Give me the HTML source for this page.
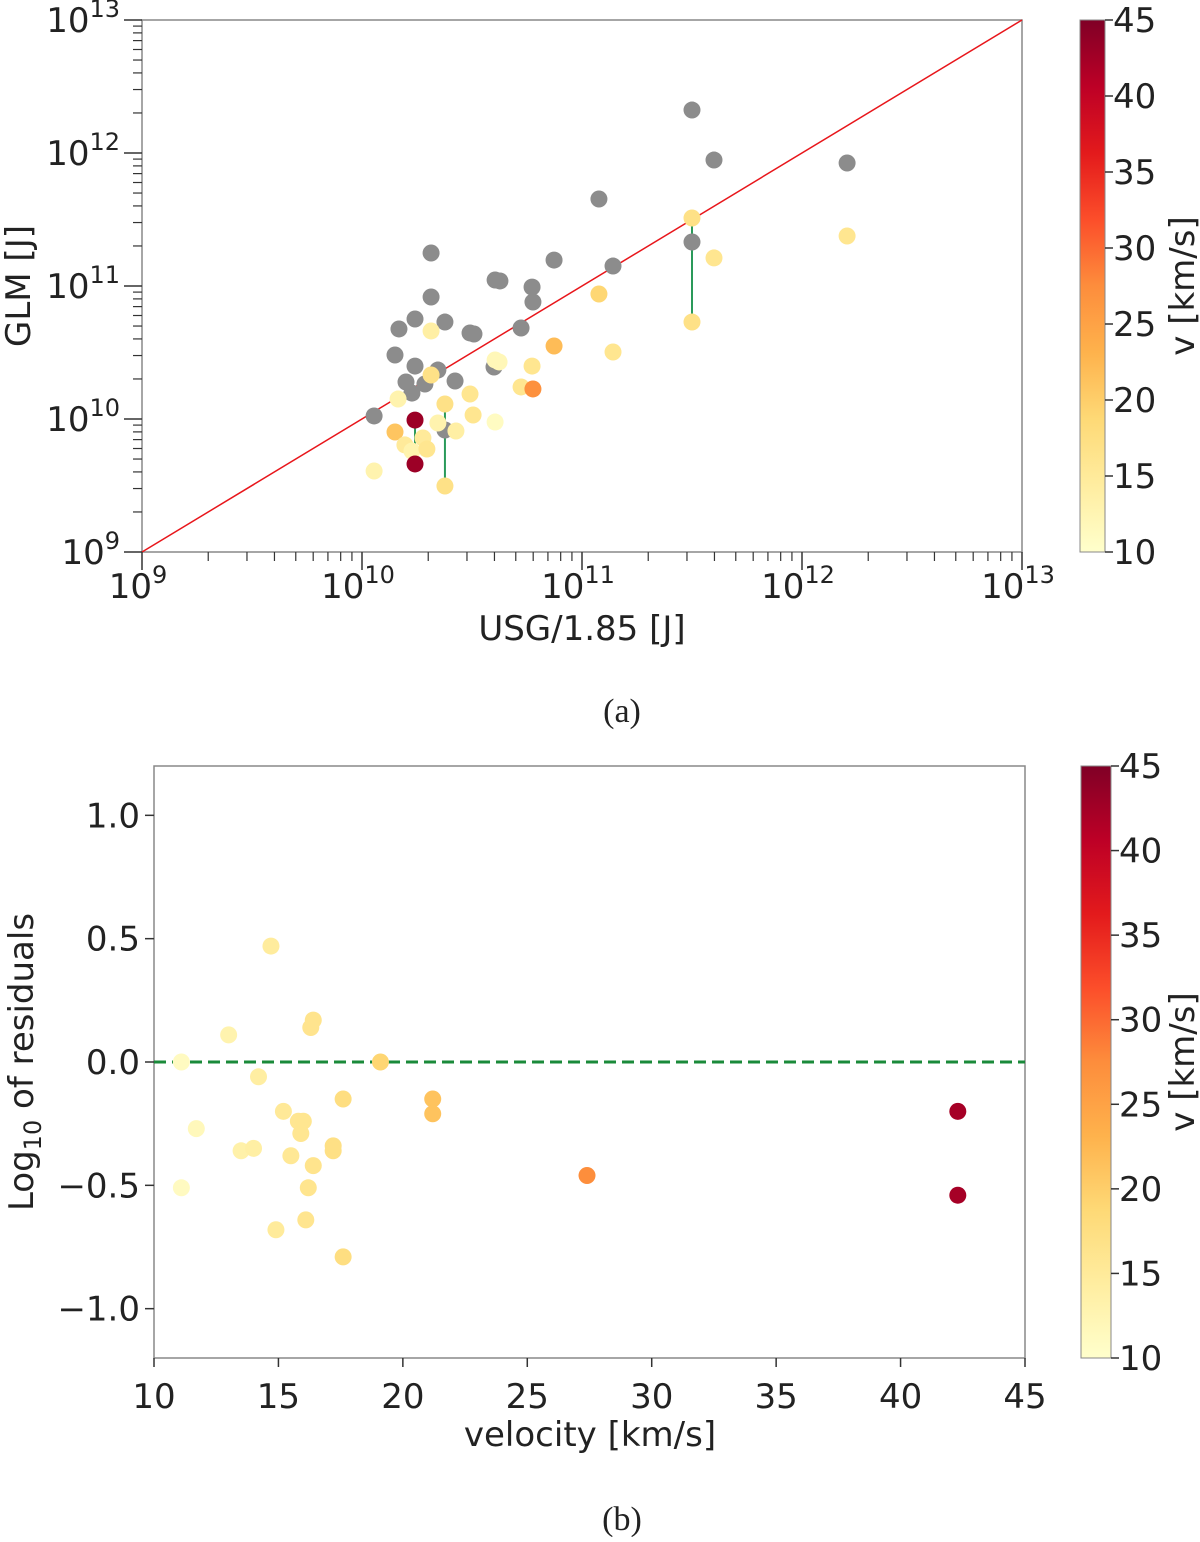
<!DOCTYPE html>
<html><head><meta charset="utf-8"><style>
body{margin:0;background:#fff;width:1200px;height:1537px;overflow:hidden}
svg text{font-family:"DejaVu Sans","Liberation Sans",sans-serif;fill:#222}
</style></head><body>
<svg id="s" width="1200" height="1537">
<defs>
<linearGradient id="cm" x1="0" y1="1" x2="0" y2="0">
<stop offset="0" stop-color="#ffffcc"/><stop offset="0.125" stop-color="#ffeda0"/><stop offset="0.25" stop-color="#fed976"/><stop offset="0.375" stop-color="#feb24c"/><stop offset="0.5" stop-color="#fd8d3c"/><stop offset="0.625" stop-color="#fc4e2a"/><stop offset="0.75" stop-color="#e31a1c"/><stop offset="0.875" stop-color="#bd0026"/><stop offset="1" stop-color="#800026"/>
</linearGradient></defs>
<g id="ga"></g>
<g id="gb"></g>
<text x="622" y="722" font-size="34" text-anchor="middle" style="font-family:'Liberation Serif',serif">(a)</text>
<text x="622" y="1530" font-size="34" text-anchor="middle" style="font-family:'Liberation Serif',serif">(b)</text>
</svg>
<script>
// Panel (a) data: log10 energies
const greyX=[10.314,10.873,10.605,10.627,10.773,10.777,10.314,10.241,10.168,10.377,10.491,10.509,10.723,10.150,10.241,10.345,10.600,10.200,10.227,10.286,10.423,10.055,10.377,11.500,11.600,12.205,11.077,11.141,11.500];
const greyY=[11.248,11.195,11.045,11.038,10.992,10.880,10.917,10.752,10.677,10.729,10.647,10.639,10.684,10.481,10.398,10.368,10.391,10.278,10.195,10.263,10.286,10.023,9.917,12.323,11.947,11.925,11.654,11.150,11.331];
const colX=[10.314,10.873,10.605,10.623,10.773,10.723,10.777,10.314,10.164,10.491,10.377,10.505,10.605,10.241,10.150,10.345,10.427,10.277,10.195,10.227,10.295,10.241,10.055,10.377,11.500,11.500,11.600,12.205,11.077,11.141];
const colY=[10.662,10.549,10.444,10.429,10.398,10.241,10.226,10.331,10.150,10.188,10.113,10.030,9.977,9.992,9.902,9.970,9.910,9.857,9.805,9.759,9.774,9.662,9.609,9.496,11.511,10.729,11.211,11.376,10.940,10.504];
const colV=[14,22,12,12,16,16,27,17,13,16,17,16,11,43,21,13,14,15,15,13,16,43,13,17,17,17,16,16,19,16];
const pairX=[10.241,10.377,11.500];const pairY1=[9.992,10.113,11.511];const pairY2=[9.662,9.496,10.729];
// Panel (b) data
const bV=[11.1,11.1,11.7,13.0,13.5,14.0,14.2,14.7,14.9,15.2,15.5,15.8,15.9,16.0,16.2,16.4,16.1,16.3,16.4,17.2,17.2,17.6,17.6,19.1,21.2,21.2,27.4,42.3,42.3];
const bR=[0.0,-0.51,-0.27,0.11,-0.36,-0.35,-0.06,0.47,-0.68,-0.20,-0.38,-0.24,-0.29,-0.24,-0.51,0.17,-0.64,0.14,-0.42,-0.34,-0.36,-0.15,-0.79,0.0,-0.15,-0.21,-0.46,-0.20,-0.54];
const cbTicks=[10,15,20,25,30,35,40,45];

const NS='http://www.w3.org/2000/svg';
function mk(p,t,a,txt){const e=document.createElementNS(NS,t);for(const k in a)e.setAttribute(k,a[k]);if(txt!==undefined)e.textContent=txt;p.appendChild(e);return e;}
const stops=['#ffffcc','#ffeda0','#fed976','#feb24c','#fd8d3c','#fc4e2a','#e31a1c','#bd0026','#800026'];
function hx(c){return [1,3,5].map(i=>parseInt(c.substr(i,2),16));}
function cmap(v){let t=Math.max(0,Math.min(1,(v-10)/35))*8;let i=Math.min(7,Math.floor(t));let f=t-i;const a=hx(stops[i]),b=hx(stops[i+1]);return 'rgb('+a.map((x,k)=>Math.round(x+(b[k]-x)*f)).join(',')+')';}

// ---- Panel a
const ga=document.getElementById('ga');
const L=142,R=1022,T=20,B=552;
const xa=l=>L+(l-9)/4*(R-L), ya=l=>B-(l-9)/4*(B-T);
mk(ga,'rect',{x:L,y:T,width:R-L,height:B-T,fill:'none',stroke:'#888','stroke-width':1.5});
let ln=mk(ga,'line',{x1:xa(9),y1:ya(9),x2:xa(13),y2:ya(13),stroke:'#e8161b','stroke-width':1.5});

for(let d=9;d<=13;d++){
  mk(ga,'line',{x1:xa(d),y1:B,x2:xa(d),y2:B+18,stroke:'#333','stroke-width':1.5});
  mk(ga,'line',{x1:L-18,y1:ya(d),x2:L,y2:ya(d),stroke:'#333','stroke-width':1.5});
  let t=mk(ga,'text',{x:xa(d)-4,y:B+46,'font-size':34,'text-anchor':'middle'});
  t.innerHTML='10<tspan dy="-15" font-size="24">'+d+'</tspan>';
  
  let u=mk(ga,'text',{x:L-22,y:ya(d)+12,'font-size':34,'text-anchor':'end'});
  u.innerHTML='10<tspan dy="-15" font-size="24">'+d+'</tspan>';
  
  if(d<13)for(let m=2;m<10;m++){const l=d+Math.log10(m);
    mk(ga,'line',{x1:xa(l),y1:B,x2:xa(l),y2:B+9,stroke:'#333','stroke-width':1.2});
    mk(ga,'line',{x1:L-9,y1:ya(l),x2:L,y2:ya(l),stroke:'#333','stroke-width':1.2});}
}
let xt=mk(ga,'text',{x:582,y:640,'font-size':34,'text-anchor':'middle'},'USG/1.85 [J]');

let yt=mk(ga,'text',{x:0,y:0,'font-size':34,'text-anchor':'middle',transform:'translate(30,286) rotate(-90)'},'GLM [J]');

for(let i=0;i<pairX.length;i++){let e=mk(ga,'line',{x1:xa(pairX[i]),y1:ya(pairY1[i]),x2:xa(pairX[i]),y2:ya(pairY2[i]),stroke:'#2a9a5a','stroke-width':2});
  }
for(let i=0;i<greyX.length;i++){let c=mk(ga,'circle',{cx:xa(greyX[i]),cy:ya(greyY[i]),r:8.5,fill:'#8c8c8c'});
  }
for(let i=0;i<colX.length;i++){let c=mk(ga,'circle',{cx:xa(colX[i]),cy:ya(colY[i]),r:8.5,fill:cmap(colV[i])});
  }
function colorbar(g,x,y0,y1,w,name){
  let r=mk(g,'rect',{x:x,y:y0,width:w,height:y1-y0,fill:'url(#cm)',stroke:'#888','stroke-width':1});
  
  cbTicks.forEach(v=>{const y=y1-(v-10)/35*(y1-y0);
    mk(g,'line',{x1:x+w,y1:y,x2:x+w+8,y2:y,stroke:'#333','stroke-width':1.5});
    let t=mk(g,'text',{x:x+w+8,y:y+12,'font-size':34},String(v));
    });
  let lb=mk(g,'text',{x:0,y:0,'font-size':34,'text-anchor':'middle',transform:'translate(1194,'+((y0+y1)/2)+') rotate(-90)'},'v [km/s]');
  
}
colorbar(ga,1080,20,552,25,'colorbar-a');

// ---- Panel b
const gb=document.getElementById('gb');
const L2=154,R2=1025,T2=766,B2=1358;
const xb=v=>L2+(v-10)/35*(R2-L2), yb=r=>B2-(r+1.2)/2.4*(B2-T2);
mk(gb,'rect',{x:L2,y:T2,width:R2-L2,height:B2-T2,fill:'none',stroke:'#888','stroke-width':1.5});
[10,15,20,25,30,35,40,45].forEach(v=>{mk(gb,'line',{x1:xb(v),y1:B2,x2:xb(v),y2:B2+9,stroke:'#333','stroke-width':1.5});
  let t=mk(gb,'text',{x:xb(v),y:B2+50,'font-size':34,'text-anchor':'middle'},String(v));
  });
[[1,'1.0'],[0.5,'0.5'],[0,'0.0'],[-0.5,'\u22120.5'],[-1,'\u22121.0']].forEach(([v,s])=>{mk(gb,'line',{x1:L2-9,y1:yb(v),x2:L2,y2:yb(v),stroke:'#333','stroke-width':1.5});
  let t=mk(gb,'text',{x:L2-14,y:yb(v)+12,'font-size':34,'text-anchor':'end'},s);
  });
let zl=mk(gb,'line',{x1:L2,y1:yb(0),x2:R2,y2:yb(0),stroke:'#1a8a3a','stroke-width':3,'stroke-dasharray':'12,6'});

let xt2=mk(gb,'text',{x:590,y:1446,'font-size':34,'text-anchor':'middle'},'velocity [km/s]');

let yt2=mk(gb,'text',{x:0,y:0,'font-size':34,'text-anchor':'middle',transform:'translate(33,1062) rotate(-90)'});
yt2.innerHTML='Log<tspan dy="8" font-size="24">10</tspan><tspan dy="-8"> of residuals</tspan>';

for(let i=0;i<bV.length;i++){let c=mk(gb,'circle',{cx:xb(bV[i]),cy:yb(bR[i]),r:8.5,fill:cmap(bV[i])});
  }
colorbar(gb,1081,766,1358,30,'colorbar-b');
</script>
</body></html>
